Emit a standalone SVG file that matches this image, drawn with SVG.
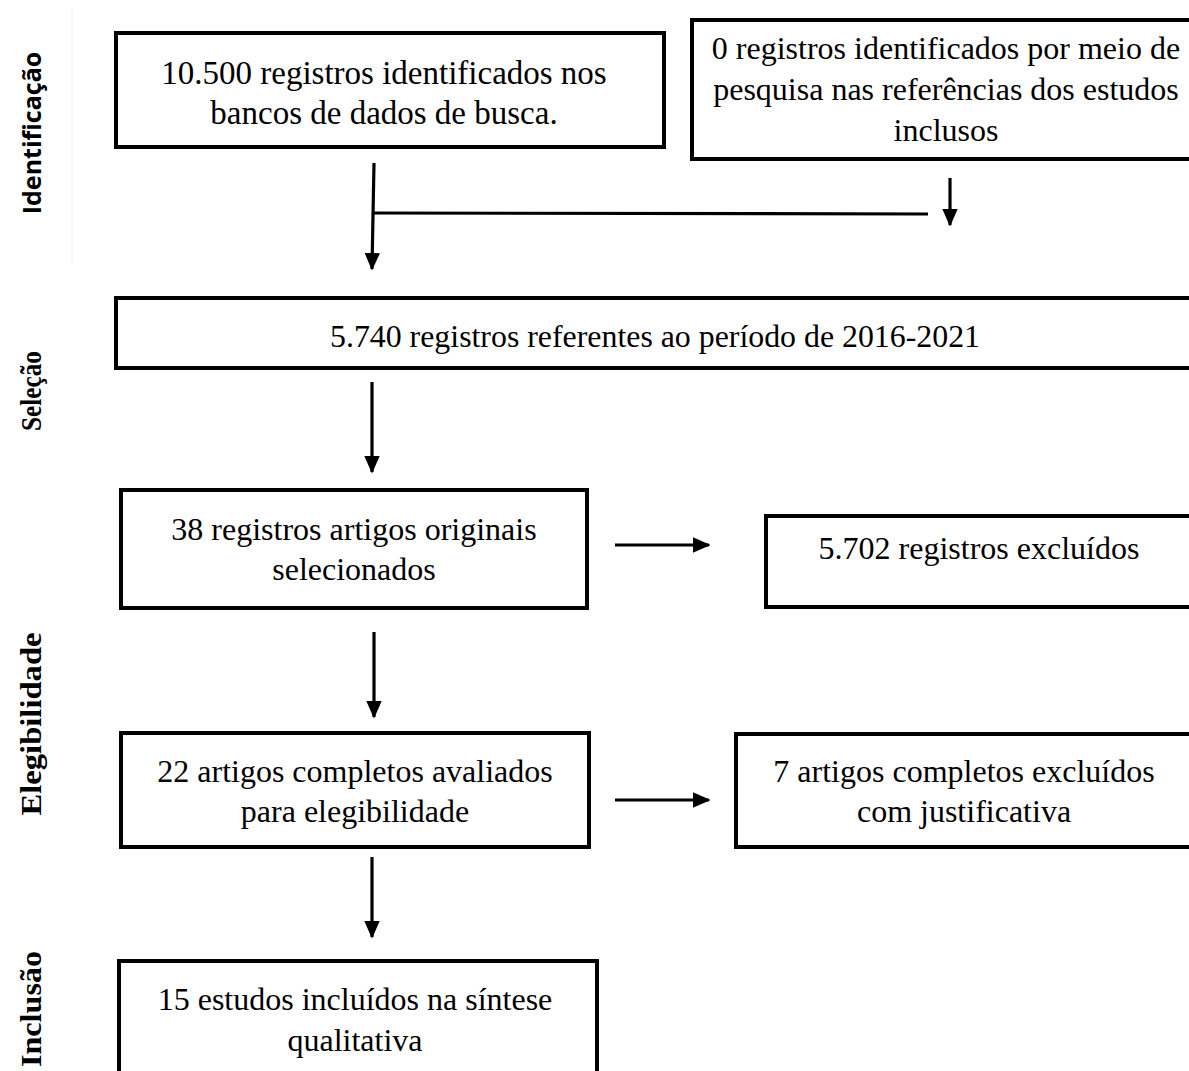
<svg xmlns="http://www.w3.org/2000/svg" width="1189" height="1071" viewBox="0 0 1189 1071">
<defs>
<marker id="ah" markerWidth="6" markerHeight="5" refX="5" refY="2.4" orient="auto" markerUnits="strokeWidth"><path d="M0,0 L5.5,2.4 L0,4.8 Z" fill="#000"/></marker>
<style>
.box{fill:#fff;stroke:#000;stroke-width:4}
.t{font-family:"Liberation Serif","Times New Roman",serif;font-size:32px;fill:#000;text-anchor:middle}
.side{font-family:"Liberation Serif","Times New Roman",serif;font-size:30px;font-weight:bold;fill:#000;text-anchor:middle}
.side2{font-family:"Open Sans","Noto Sans",sans-serif;font-size:25px;font-weight:bold;fill:#000;text-anchor:middle}
.c{stroke:#000;stroke-width:3.2;fill:none}
</style>
</defs>
<rect width="1189" height="1071" fill="#fff"/>
<line x1="72" y1="8" x2="72" y2="265" stroke="#f0f0f0" stroke-width="1"/>
<g id="labels">
<text class="side2" transform="translate(41,133) rotate(-90)">Identificação</text>
<text class="side" transform="translate(41,391) rotate(-90)" textLength="80" lengthAdjust="spacingAndGlyphs">Seleção</text>
<text class="side" transform="translate(41,724) rotate(-90)" textLength="183" lengthAdjust="spacingAndGlyphs">Elegibilidade</text>
<text class="side" transform="translate(41,1009) rotate(-90)" textLength="116" lengthAdjust="spacingAndGlyphs">Inclusão</text>
</g>
<g id="n1"><rect class="box" x="116" y="33" width="548" height="114"/>
<text class="t" x="384" y="84" style="font-size:33px">10.500 registros identificados nos</text>
<text class="t" x="384" y="124" style="font-size:33px">bancos de dados de busca.</text></g>
<g id="n2"><rect class="box" x="692" y="20" width="520" height="139"/>
<text class="t" x="946" y="59">0 registros identificados por meio de</text>
<text class="t" x="946" y="100">pesquisa nas referências dos estudos</text>
<text class="t" x="946" y="141">inclusos</text></g>
<g id="n3"><rect class="box" x="116" y="298" width="1100" height="70"/>
<text class="t" x="655" y="347" textLength="650" lengthAdjust="spacingAndGlyphs">5.740 registros referentes ao período de 2016-2021</text></g>
<g id="n4"><rect class="box" x="121" y="490" width="466" height="118"/>
<text class="t" x="354" y="540">38 registros artigos originais</text>
<text class="t" x="354" y="580">selecionados</text></g>
<g id="n5"><rect class="box" x="766" y="516" width="450" height="91"/>
<text class="t" x="979" y="559">5.702 registros excluídos</text></g>
<g id="n6"><rect class="box" x="121" y="733" width="468" height="114"/>
<text class="t" x="355" y="782">22 artigos completos avaliados</text>
<text class="t" x="355" y="822">para elegibilidade</text></g>
<g id="n7"><rect class="box" x="736" y="734" width="480" height="113"/>
<text class="t" x="964" y="782">7 artigos completos excluídos</text>
<text class="t" x="964" y="822">com justificativa</text></g>
<g id="n8"><rect class="box" x="119" y="961" width="478" height="130"/>
<text class="t" x="355" y="1010">15 estudos incluídos na síntese</text>
<text class="t" x="355" y="1051">qualitativa</text></g>
<g id="connectors">
<path class="c" d="M374,163 L372,269" marker-end="url(#ah)"/>
<line class="c" x1="372" y1="213" x2="928" y2="214"/>
<path class="c" d="M950,178 L950,225" marker-end="url(#ah)"/>
<path class="c" d="M372,382 L372,472" marker-end="url(#ah)"/>
<path class="c" d="M615,545 L709,545" marker-end="url(#ah)"/>
<path class="c" d="M374,632 L374,717" marker-end="url(#ah)"/>
<path class="c" d="M615,800 L709,800" marker-end="url(#ah)"/>
<path class="c" d="M372,857 L372,937" marker-end="url(#ah)"/>
</g>
</svg>
